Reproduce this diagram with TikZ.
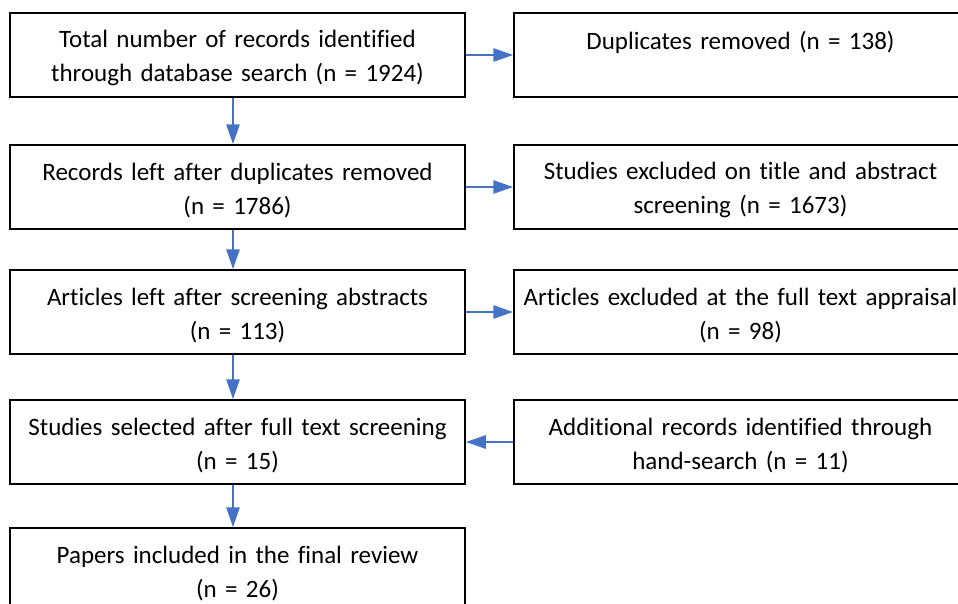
\documentclass[tikz,border=0pt]{standalone}
\usepackage{fontspec}
\setmainfont{Carlito}[Ligatures=CommonOff]
\usetikzlibrary{arrows.meta}
\definecolor{arrowblue}{HTML}{4472C4}
\begin{document}
\begin{tikzpicture}[x=1pt,y=-1pt,
  box/.style={draw=black, line width=1.5pt, minimum height=84pt, inner sep=0pt,
    text width=455pt, align=center, font=\fontsize{25}{34}\selectfont,
    execute at begin node={\strut}},
  rbox/.style={box, text width=453pt},
  flow/.style={draw=arrowblue, line width=2.8pt, -{Triangle[length=20pt,width=13pt]}}]
\useasboundingbox (0,0) rectangle (958,603);
\clip (0,0) rectangle (958,603);
\node[box] (b1) at (237.5,55) {Total number of records identified\\through database search (n = 1924)};
\node[box] (b2) at (237.5,187) {Records left after duplicates removed\\(n = 1786)};
\node[box] (b3) at (237.5,312) {Articles left after screening abstracts\\(n = 113)};
\node[box] (b4) at (237.5,442) {Studies selected after full text screening\\(n = 15)};
\node[box] (b5) at (237.5,570) {Papers included in the final review\\(n = 26)};
\node[rbox] (r1) at (740.5,55) {Duplicates removed (n = 138)\\\mbox{}};
\node[rbox] (r2) at (740.5,187) {Studies excluded on title and abstract\\screening (n = 1673)};
\node[rbox] (r3) at (740.5,312) {Articles excluded at the full text appraisal\\(n = 98)};
\node[rbox] (r4) at (740.5,442) {Additional records identified through\\hand-search (n = 11)};
\draw[flow] ([xshift=-4.5pt]b1.south) -- ([xshift=-4.5pt]b2.north);
\draw[flow] ([xshift=-4.5pt]b2.south) -- ([xshift=-4.5pt]b3.north);
\draw[flow] ([xshift=-4.5pt]b3.south) -- ([xshift=-4.5pt]b4.north);
\draw[flow] ([xshift=-4.5pt]b4.south) -- ([xshift=-4.5pt]b5.north);
\draw[flow] (b1.east) -- (r1.west);
\draw[flow] (b2.east) -- (r2.west);
\draw[flow] (b3.east) -- (r3.west);
\draw[flow] (r4.west) -- (b4.east);
\end{tikzpicture}
\end{document}
